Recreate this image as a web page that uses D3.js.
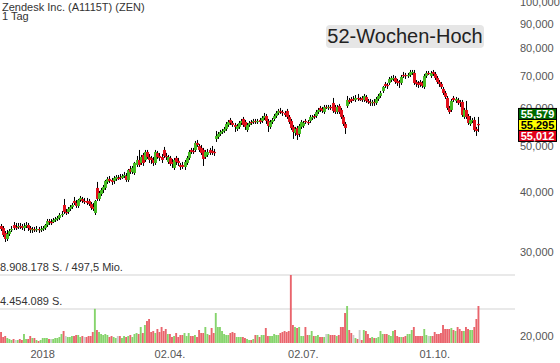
<!DOCTYPE html>
<html>
<head>
<meta charset="utf-8">
<script src="https://cdn.jsdelivr.net/npm/d3@7/dist/d3.min.js"></script>
<style>
body { margin: 0; background: #fff; }
svg { display: block; font-family: "Liberation Sans", Arial, sans-serif; }
</style>
</head>
<body>
<svg id="chart"></svg>
<script>
var titleLines = ["Zendesk Inc. (A1115T) (ZEN)", "1 Tag"];
var badgeText = "52-Wochen-Hoch";

// trading calendar
var firstDay = "2017-12-01";
var holidays = ["2017-12-25", "2018-01-01", "2018-01-15", "2018-02-19", "2018-03-30",
    "2018-05-28", "2018-07-04", "2018-09-03"];

var opens = [
    33.98, 33.65, 32.86, 31.92, 32.70, 33.33, 34.14, 33.82, 33.82, 33.98,
    33.98, 33.65, 33.98, 34.14, 33.65, 33.33, 33.49, 33.33, 33.49, 33.33,
    33.49, 33.65, 34.14, 34.81, 34.64, 34.64, 34.98, 35.15, 35.32, 35.83,
    37.60, 36.36, 36.36, 36.89, 37.24, 38.34, 37.97, 37.42, 38.52, 38.71,
    38.34, 38.34, 38.34, 37.78, 37.24, 36.18, 40.82, 38.71, 39.65, 40.42,
    40.82, 42.02, 42.63, 42.42, 42.22, 42.63, 42.83, 43.04, 42.83, 43.24,
    43.24, 42.42, 44.73, 44.09, 43.87, 45.60, 46.71, 46.04, 47.85, 46.71,
    48.55, 47.39, 47.17, 46.71, 46.04, 48.32, 47.62, 47.39, 49.02, 47.62,
    46.27, 47.17, 46.27, 44.95, 47.17, 46.49, 45.60, 45.60, 45.16, 46.04,
    47.17, 49.02, 48.79, 49.02, 50.70, 49.97, 49.50, 49.02, 47.39, 47.85,
    49.02, 48.79, 48.55, 51.69, 52.19, 52.95, 53.46, 53.72, 54.24, 55.29,
    56.64, 55.83, 55.29, 54.24, 54.77, 55.83, 56.92, 56.10, 53.98, 55.29,
    56.10, 56.10, 56.37, 56.10, 56.64, 56.37, 57.19, 57.74, 56.37, 54.77,
    56.10, 56.92, 57.74, 58.59, 59.16, 58.87, 58.59, 59.16, 57.47, 56.37,
    54.77, 53.21, 54.50, 52.95, 54.77, 55.03, 56.37, 56.10, 56.37, 57.19,
    57.74, 57.74, 58.87, 60.02, 59.73, 58.87, 60.31, 60.02, 60.31, 61.48,
    60.31, 58.87, 60.60, 59.44, 57.47, 55.56, 60.60, 62.37, 62.67, 62.67,
    62.37, 62.98, 62.67, 62.98, 62.37, 63.28, 62.07, 61.78, 61.48, 61.78,
    61.48, 62.67, 63.58, 65.14, 67.37, 67.05, 67.70, 68.68, 69.01, 69.35,
    68.35, 68.02, 67.70, 70.36, 70.36, 70.02, 70.36, 71.04, 71.04, 68.02,
    67.70, 68.02, 67.70, 66.41, 70.02, 71.04, 70.02, 71.38, 70.70, 69.35,
    68.02, 67.37, 65.77, 64.51, 62.98, 60.02, 59.44, 62.98, 62.07, 62.37,
    61.78, 61.78, 57.47, 59.44, 57.74, 55.56, 56.37, 56.64, 54.24, 55.56
];
var highs = [
    34.31, 33.98, 33.17, 33.33, 33.49, 33.98, 34.64, 34.48, 34.48, 34.48,
    34.31, 34.48, 34.64, 34.48, 33.98, 33.82, 33.82, 33.98, 33.82, 33.98,
    33.98, 34.31, 35.15, 35.15, 35.15, 35.32, 35.49, 35.66, 36.18, 36.53,
    38.71, 36.89, 37.24, 37.60, 37.97, 39.08, 38.52, 38.71, 39.27, 39.08,
    38.90, 38.90, 38.71, 38.15, 37.97, 38.52, 42.02, 40.23, 40.82, 41.41,
    42.42, 43.04, 43.24, 42.83, 43.24, 43.45, 43.45, 43.66, 43.66, 44.09,
    43.87, 44.73, 45.38, 45.38, 46.27, 47.62, 49.02, 47.85, 48.32, 49.02,
    49.02, 48.08, 47.62, 47.39, 49.02, 48.79, 48.32, 48.08, 49.74, 48.32,
    47.85, 47.62, 46.94, 47.17, 47.62, 47.17, 46.04, 46.27, 46.71, 47.62,
    49.02, 49.50, 49.50, 51.19, 51.44, 50.46, 50.21, 49.50, 49.02, 49.26,
    49.50, 49.97, 49.26, 53.72, 53.46, 53.98, 54.24, 54.77, 56.10, 56.64,
    57.19, 56.37, 55.83, 55.56, 56.37, 56.92, 57.47, 56.64, 55.83, 56.37,
    56.64, 56.92, 56.92, 56.92, 57.19, 57.74, 58.59, 58.30, 56.92, 56.64,
    57.19, 58.30, 59.16, 59.73, 60.02, 59.44, 59.16, 59.73, 58.02, 56.92,
    55.29, 54.77, 55.03, 55.56, 56.64, 56.37, 56.92, 56.64, 58.02, 58.02,
    58.30, 59.44, 60.02, 60.60, 60.31, 60.89, 60.89, 60.89, 60.89, 62.98,
    60.89, 60.89, 61.19, 60.02, 58.02, 56.10, 63.58, 62.98, 63.28, 63.58,
    63.89, 64.20, 63.28, 63.58, 64.20, 63.89, 62.67, 62.67, 62.37, 62.67,
    63.28, 64.20, 65.14, 66.73, 68.02, 67.70, 69.68, 70.02, 70.36, 70.02,
    69.01, 68.68, 70.36, 71.38, 71.04, 71.04, 72.07, 72.07, 72.07, 68.68,
    68.35, 68.68, 68.35, 70.70, 71.72, 71.72, 71.72, 72.07, 71.38, 70.02,
    68.68, 68.02, 66.41, 65.14, 63.58, 60.60, 62.67, 63.58, 63.28, 62.98,
    62.37, 62.37, 60.02, 62.07, 58.30, 57.74, 57.19, 57.47, 54.77, 57.47
];
var lows = [
    33.17, 32.23, 31.46, 31.61, 32.38, 33.01, 33.33, 33.33, 33.49, 33.49,
    33.33, 33.17, 33.65, 33.17, 32.86, 32.86, 33.01, 33.01, 32.86, 33.01,
    33.17, 33.33, 33.82, 34.14, 34.14, 34.48, 34.64, 34.81, 34.98, 35.49,
    36.01, 35.83, 36.01, 36.53, 36.89, 37.60, 37.07, 37.07, 38.15, 37.97,
    37.78, 37.60, 37.42, 36.71, 36.53, 35.83, 38.34, 38.34, 39.27, 39.84,
    40.42, 41.61, 41.81, 41.41, 41.61, 42.22, 42.42, 42.42, 42.63, 42.83,
    42.02, 42.02, 43.66, 43.66, 43.45, 45.16, 45.16, 45.60, 45.38, 46.27,
    46.94, 46.04, 45.82, 45.38, 45.60, 46.94, 46.49, 46.04, 47.17, 46.71,
    45.82, 45.38, 44.95, 44.51, 45.60, 45.38, 44.51, 44.73, 44.51, 45.60,
    46.71, 48.08, 48.08, 48.55, 49.74, 48.55, 47.85, 45.38, 46.94, 47.39,
    47.85, 47.85, 47.62, 50.95, 51.69, 52.44, 52.95, 53.21, 53.72, 54.77,
    55.29, 54.77, 53.46, 53.72, 54.24, 55.29, 54.77, 53.98, 53.46, 54.77,
    55.29, 55.56, 55.56, 55.56, 55.56, 55.83, 56.64, 55.56, 53.46, 54.24,
    55.56, 56.37, 57.19, 58.02, 58.30, 57.74, 57.47, 56.92, 55.56, 53.98,
    51.69, 52.44, 51.44, 52.19, 54.24, 54.50, 55.56, 55.29, 55.83, 56.64,
    56.92, 57.19, 58.30, 58.87, 58.59, 58.30, 59.73, 59.44, 59.44, 58.59,
    58.30, 58.30, 58.30, 56.92, 55.03, 52.95, 60.02, 61.19, 61.48, 62.07,
    61.78, 62.07, 62.07, 61.78, 61.78, 61.48, 61.19, 60.60, 60.60, 60.60,
    60.89, 62.07, 62.98, 64.51, 66.09, 65.77, 67.05, 68.02, 68.35, 67.37,
    66.73, 66.09, 67.05, 69.35, 69.01, 69.35, 69.68, 70.36, 67.05, 66.41,
    66.09, 66.41, 66.09, 65.77, 69.35, 70.36, 69.35, 70.02, 68.68, 67.37,
    66.41, 65.77, 63.89, 62.67, 59.44, 58.30, 58.87, 61.78, 61.48, 60.89,
    60.31, 57.47, 56.92, 56.92, 55.29, 55.03, 55.83, 53.46, 52.44, 53.46
];
var closes = [
    33.49, 32.54, 31.92, 32.70, 33.17, 33.49, 33.65, 33.82, 33.98, 33.82,
    33.65, 33.98, 34.14, 33.65, 33.33, 33.49, 33.33, 33.49, 33.33, 33.49,
    33.65, 34.14, 34.81, 34.64, 34.64, 34.98, 35.15, 35.32, 35.83, 36.01,
    36.36, 36.36, 36.89, 37.24, 37.60, 37.97, 37.42, 38.52, 38.90, 38.34,
    38.34, 37.97, 37.78, 37.07, 36.89, 38.34, 38.71, 39.84, 40.42, 41.01,
    42.22, 42.63, 42.22, 42.02, 42.83, 43.04, 42.83, 42.83, 43.24, 43.45,
    42.42, 44.51, 44.09, 44.95, 46.04, 46.71, 45.60, 47.39, 46.04, 48.55,
    47.39, 46.71, 46.71, 46.04, 48.55, 47.39, 47.17, 46.71, 47.62, 47.39,
    47.39, 45.82, 45.82, 46.71, 46.27, 46.04, 45.16, 45.16, 46.27, 47.17,
    48.55, 48.55, 48.55, 50.70, 50.21, 49.02, 48.32, 46.94, 48.55, 48.55,
    48.32, 48.32, 48.32, 52.44, 52.95, 53.46, 53.72, 54.24, 55.56, 56.10,
    55.83, 55.29, 54.77, 55.03, 55.83, 56.37, 55.29, 54.77, 55.29, 55.83,
    55.83, 56.37, 56.10, 56.37, 56.10, 57.19, 57.74, 56.37, 55.03, 56.10,
    56.64, 57.74, 58.59, 59.16, 58.87, 58.59, 58.02, 57.47, 56.10, 54.50,
    53.46, 54.24, 52.69, 55.03, 56.10, 55.83, 56.10, 55.83, 57.47, 57.47,
    57.47, 58.87, 59.44, 59.44, 59.16, 60.31, 60.31, 60.31, 60.02, 59.16,
    58.87, 60.31, 58.87, 57.47, 55.56, 54.50, 62.37, 61.78, 62.07, 62.67,
    62.98, 62.67, 62.67, 62.37, 63.58, 62.07, 61.78, 61.48, 61.78, 61.48,
    62.67, 63.58, 64.51, 66.41, 66.73, 66.73, 69.01, 69.35, 69.35, 68.02,
    67.70, 67.70, 69.68, 70.02, 70.02, 70.36, 71.38, 71.38, 67.70, 67.37,
    67.05, 67.05, 66.73, 70.02, 71.04, 71.04, 71.04, 70.70, 69.35, 68.02,
    67.37, 66.41, 64.51, 63.28, 60.02, 58.87, 62.07, 62.37, 62.67, 61.48,
    61.48, 58.02, 59.44, 57.47, 55.83, 56.64, 56.64, 53.98, 53.72, 55.29
];
var volumes = [
    1441000, 786000, 917000, 655000, 524000, 393000, 524000, 393000, 393000, 524000,
    393000, 1179000, 524000, 524000, 917000, 655000, 655000, 393000, 262000, 393000,
    655000, 655000, 655000, 524000, 524000, 524000, 655000, 655000, 786000, 1179000,
    1572000, 917000, 786000, 786000, 917000, 917000, 1048000, 1048000, 786000, 917000,
    786000, 786000, 917000, 917000, 1441000, 4480000, 1703000, 1441000, 1179000, 1048000,
    1179000, 1048000, 786000, 917000, 786000, 655000, 917000, 917000, 655000, 917000,
    786000, 917000, 1048000, 786000, 1179000, 1310000, 1179000, 2096000, 1310000, 2358000,
    2882000, 3144000, 1441000, 1572000, 1310000, 1834000, 1441000, 2096000, 1572000, 1834000,
    1179000, 1179000, 786000, 917000, 1310000, 786000, 1048000, 1048000, 1310000, 917000,
    1310000, 917000, 917000, 1048000, 786000, 1703000, 1310000, 1310000, 2096000, 1179000,
    1048000, 1965000, 1310000, 3930000, 2096000, 2096000, 1572000, 1179000, 1048000, 1048000,
    1310000, 1441000, 1310000, 786000, 786000, 786000, 786000, 655000, 524000, 393000,
    393000, 524000, 1048000, 1048000, 786000, 1048000, 1048000, 1965000, 917000, 917000,
    917000, 1179000, 1048000, 1048000, 1310000, 1441000, 1572000, 1441000, 1572000, 8908178,
    2358000, 2096000, 1965000, 2096000, 917000, 917000, 2096000, 1048000, 1048000, 1572000,
    917000, 917000, 1048000, 786000, 786000, 786000, 1179000, 1179000, 1048000, 1048000,
    1048000, 917000, 1048000, 2096000, 2096000, 3930000, 4847000, 1703000, 1310000, 1048000,
    655000, 524000, 1703000, 393000, 1703000, 1572000, 1179000, 655000, 786000, 655000,
    655000, 786000, 1572000, 1179000, 1179000, 1179000, 1048000, 917000, 1572000, 1703000,
    917000, 786000, 786000, 786000, 917000, 1179000, 1179000, 1703000, 2096000, 917000,
    917000, 917000, 917000, 1834000, 1048000, 917000, 917000, 917000, 1441000, 1179000,
    1179000, 1310000, 2358000, 1834000, 1834000, 1834000, 1965000, 1703000, 1572000, 2096000,
    1834000, 1572000, 1572000, 2096000, 1834000, 1703000, 1703000, 2096000, 3144000, 4847000
];

var priceTicks = [20, 30, 40, 50, 60, 70, 80, 90, 100];
var tickDates = ["2018-01-02", "2018-04-02", "2018-07-02", "2018-10-01"];
var tickLabels = ["2018", "02.04.", "02.07.", "01.10."];
var quoteValues = [55.579, 55.295, 55.012];
var turnoverText = "497,5 Mio.";

function tradingDays(start, n, skip) {
    var out = [];
    var d = new Date(start + "T00:00:00Z");
    while (out.length < n) {
        var s = d.toISOString().slice(0, 10);
        var wd = d.getUTCDay();
        if (wd > 0 && wd < 6 && skip.indexOf(s) < 0) {
            out.push(s);
        }
        d.setUTCDate(d.getUTCDate() + 1);
    }
    return out;
}

function CandleChart(ID, cfg) {
    var svg = d3.select("#" + ID).attr("width", cfg.width).attr("height", cfg.height);
    var de = d3.formatLocale({decimal: ",", thousands: ".", grouping: [3], currency: ["", " €"]});
    var fmtPrice = de.format(".3f");
    var fmtCount = de.format(",.0f");

    var dates = tradingDays(firstDay, closes.length, holidays);
    var data = dates.map(function (d, i) {
        return {date: d, o: opens[i], h: highs[i], l: lows[i], c: closes[i], v: volumes[i]};
    });

    var x = d3.scaleBand().domain(dates).range([0, cfg.plotRight]);
    var y = d3.scaleLog().domain([20, 100]).range([336, 2]);
    var vMax = d3.max(volumes);
    var yv = d3.scaleLinear().domain([0, vMax]).range([343, 275]);

    function cx(d) {
        return x(d.date) + x.bandwidth() / 2;
    }
    function dir(d) {
        return d.c > d.o ? "up" : (d.c < d.o ? "down" : "flat");
    }

    // volume grid lines and labels
    var vg = svg.append("g");
    [vMax, vMax / 2].forEach(function (v, k) {
        vg.append("line")
            .attr("x1", 0).attr("x2", 515)
            .attr("y1", yv(v)).attr("y2", yv(v))
            .attr("stroke", "#e2e2e2").attr("stroke-width", 1.5);
        vg.append("text")
            .attr("x", 0).attr("y", yv(v) - 4)
            .style("font-size", "11px").attr("fill", "#333")
            .text(fmtCount(v) + " S." + (k === 0 ? " / " + turnoverText : ""));
    });

    // volume bars
    var volColor = {up: "#86d46c", down: "#e9646c", flat: "#cccccc"};
    svg.append("g").selectAll("rect")
        .data(data).enter().append("rect")
        .attr("x", function (d) { return x(d.date) + 0.1; })
        .attr("width", x.bandwidth() - 0.2)
        .attr("y", function (d) { return yv(d.v); })
        .attr("height", function (d) { return yv(0) - yv(d.v); })
        .attr("fill", function (d) { return volColor[dir(d)]; });

    // candles: wick first, body on top
    var bodyColor = {up: "#44bb22", down: "#e0101c", flat: "#e0101c"};
    var cg = svg.append("g");
    cg.selectAll("line")
        .data(data).enter().append("line")
        .attr("x1", function (d) { return Math.round(cx(d)) + 0.5; })
        .attr("x2", function (d) { return Math.round(cx(d)) + 0.5; })
        .attr("y1", function (d) { return y(d.h); })
        .attr("y2", function (d) { return y(d.l); })
        .attr("stroke", "#000").attr("stroke-width", 1);
    cg.selectAll("rect")
        .data(data).enter().append("rect")
        .attr("x", function (d) { return Math.round(cx(d)) - 1; })
        .attr("width", 3)
        .attr("y", function (d) { return y(Math.max(d.o, d.c)); })
        .attr("height", function (d) { return Math.max(1.2, Math.abs(y(d.o) - y(d.c))); })
        .attr("fill", function (d) { return bodyColor[dir(d)]; });

    // price axis on the right
    var ay = svg.append("g").attr("transform", "translate(518,0)")
        .call(d3.axisRight(y).tickValues(priceTicks).tickFormat(fmtPrice).tickSize(0).tickPadding(2));
    ay.select(".domain").remove();
    ay.selectAll("text").style("font-size", "11px").attr("fill", "#555")
        .style("font-family", "'Liberation Sans', Arial, sans-serif");

    // date axis
    var ax = svg.append("g").attr("transform", "translate(0,344)")
        .call(d3.axisBottom(x).tickValues(tickDates).tickFormat(function (d, i) { return tickLabels[i]; })
            .tickSize(0).tickPadding(6));
    ax.select(".domain").remove();
    ax.selectAll("text").style("font-size", "11px").attr("fill", "#555")
        .style("font-family", "'Liberation Sans', Arial, sans-serif");

    // last / bid / ask boxes
    var boxFill = ["#006a00", "#ffff00", "#e2001a"];
    var boxText = ["#fff", "#000", "#fff"];
    var midY = y(quoteValues[1]);
    quoteValues.forEach(function (q, k) {
        var top = midY - 5.5 + (k - 1) * 11;
        svg.append("rect")
            .attr("x", 518.5).attr("y", top).attr("width", 38).attr("height", 11)
            .attr("fill", boxFill[k]).attr("stroke", "#000").attr("stroke-width", 1);
        svg.append("text")
            .attr("x", 537.5).attr("y", top + 9.5)
            .attr("text-anchor", "middle")
            .style("font-size", "11px").style("font-weight", "bold")
            .attr("fill", boxText[k])
            .text(fmtPrice(q));
    });

    // title
    titleLines.forEach(function (t, k) {
        svg.append("text")
            .attr("x", 2).attr("y", 10.5 + k * 9.5)
            .style("font-size", "11px").attr("fill", "#333")
            .text(t);
    });

    // 52 week high badge
    svg.append("rect")
        .attr("x", 326).attr("y", 25).attr("width", 158).attr("height", 23).attr("rx", 4)
        .attr("fill", "#e6e6e6");
    svg.append("text")
        .attr("x", 405).attr("y", 43)
        .attr("text-anchor", "middle")
        .style("font-size", "20px").attr("fill", "#222")
        .text(badgeText);
}

CandleChart("chart", {width: 560, height: 363, plotRight: 479.5});
</script>
</body>
</html>
